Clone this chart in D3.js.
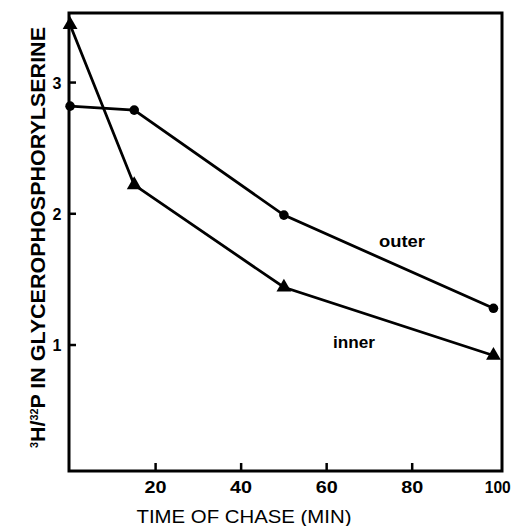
<!DOCTYPE html>
<html>
<head>
<meta charset="utf-8">
<script src="https://cdn.jsdelivr.net/npm/d3@7"></script>
<style>
  body { margin: 0; background: #fff; }
  text { font-family: "Liberation Sans", Arial, sans-serif; font-weight: bold; fill: #000; }
</style>
</head>
<body>
<div id="chart"></div>
<script>
// values
const outerTime = [0, 15, 50, 99];
const outerRatio = [2.82, 2.79, 1.99, 1.28];
const innerTime = [0, 15, 50, 99];
const innerRatio = [3.44, 2.22, 1.44, 0.92];
const xTicks = [20, 40, 60, 80, 100];
const yTicks = [1, 2, 3];

const width = 513, height = 526;
const margin = {top: 13, right: 11, bottom: 55, left: 69};

const svg = d3.select("#chart").append("svg")
    .attr("width", width)
    .attr("height", height);

const x = d3.scaleLinear().domain([-0.25, 101]).range([margin.left, width - margin.right]);
const y = d3.scaleLinear().domain([0.04, 3.53]).range([height - margin.bottom, margin.top]);

// frame
svg.append("rect")
    .attr("x", x.range()[0])
    .attr("y", y.range()[1])
    .attr("width", x.range()[1] - x.range()[0])
    .attr("height", y.range()[0] - y.range()[1])
    .attr("fill", "none")
    .attr("stroke", "#000")
    .attr("stroke-width", 3);

// x ticks (inward) and labels
svg.selectAll(".xtick").data(xTicks.filter(d => d < 100)).enter().append("line")
    .attr("x1", d => x(d)).attr("x2", d => x(d))
    .attr("y1", y.range()[0]).attr("y2", y.range()[0] - 8)
    .attr("stroke", "#000").attr("stroke-width", 2.5);
svg.selectAll(".xlab").data(xTicks).enter().append("text")
    .attr("x", d => x(d))
    .attr("y", 493)
    .attr("text-anchor", "middle")
    .style("font-size", "16px")
    .attr("textLength", d => d < 100 ? 22 : 26)
    .attr("lengthAdjust", "spacingAndGlyphs")
    .text(d => d);

// y ticks (inward) and labels
svg.selectAll(".ytick").data(yTicks).enter().append("line")
    .attr("x1", x.range()[0]).attr("x2", x.range()[0] + 7)
    .attr("y1", d => y(d)).attr("y2", d => y(d))
    .attr("stroke", "#000").attr("stroke-width", 2.5);
svg.selectAll(".ylab").data(yTicks).enter().append("text")
    .attr("x", 57)
    .attr("y", d => y(d) + 6)
    .attr("text-anchor", "middle")
    .style("font-size", "16px")
    .text(d => d);

// axis titles
svg.append("text")
    .attr("x", 244)
    .attr("y", 523)
    .attr("text-anchor", "middle")
    .attr("textLength", 215)
    .attr("lengthAdjust", "spacingAndGlyphs")
    .style("font-size", "18px")
    .style("font-weight", "normal")
    .text("TIME OF CHASE (MIN)");

const yt = svg.append("text")
    .attr("transform", "translate(45,448) rotate(-90)")
    .attr("textLength", 421)
    .attr("lengthAdjust", "spacingAndGlyphs")
    .style("font-size", "20px");
yt.append("tspan").attr("dy", -7).style("font-size", "10px").text("3");
yt.append("tspan").attr("dy", 7).text("H/");
yt.append("tspan").attr("dy", -7).style("font-size", "10px").text("32");
yt.append("tspan").attr("dy", 7).text("P IN GLYCEROPHOSPHORYLSERINE");

// series
const line = d3.line().x(d => x(d[0])).y(d => y(d[1]));
const outer = outerTime.map((t, i) => [t, outerRatio[i]]);
const inner = innerTime.map((t, i) => [t, innerRatio[i]]);

svg.append("path").datum(outer).attr("d", line)
    .attr("fill", "none").attr("stroke", "#000").attr("stroke-width", 2.8);
svg.append("path").datum(inner).attr("d", line)
    .attr("fill", "none").attr("stroke", "#000").attr("stroke-width", 2.8);

svg.selectAll(".dot").data(outer).enter().append("circle")
    .attr("cx", d => x(d[0])).attr("cy", d => y(d[1]))
    .attr("r", 4.8).attr("fill", "#000");

const tri = d3.symbol().type(d3.symbolTriangle).size(95);
svg.selectAll(".tri").data(inner).enter().append("path")
    .attr("d", tri)
    .attr("transform", d => `translate(${x(d[0])},${y(d[1])})`)
    .attr("fill", "#000");

// series labels
svg.append("text").attr("x", 402).attr("y", 247).attr("text-anchor", "middle")
    .attr("textLength", 46).attr("lengthAdjust", "spacingAndGlyphs")
    .style("font-size", "17px").text("outer");
svg.append("text").attr("x", 354).attr("y", 348).attr("text-anchor", "middle")
    .attr("textLength", 42).attr("lengthAdjust", "spacingAndGlyphs")
    .style("font-size", "17px").text("inner");
</script>
</body>
</html>
